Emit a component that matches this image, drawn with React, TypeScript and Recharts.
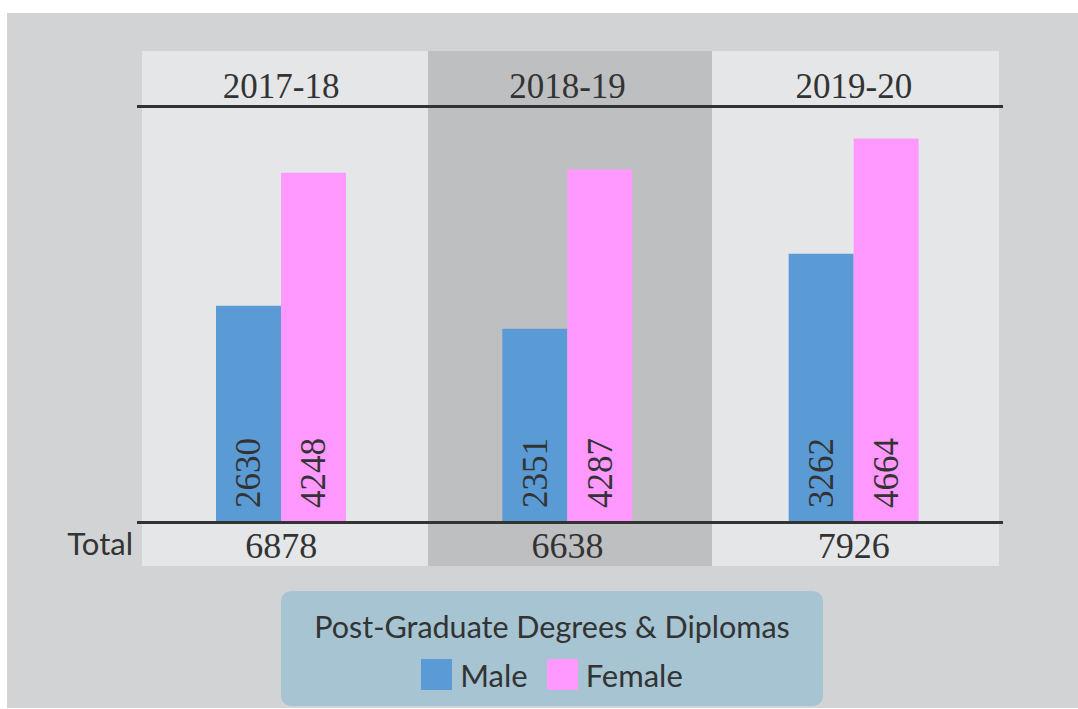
import { BarChart, Bar, XAxis, YAxis, Legend, LabelList } from 'recharts';

const years = ['2017-18', '2018-19', '2019-20'];
const male = [2630, 2351, 3262];
const female = [4248, 4287, 4664];
const totals = [6878, 6638, 7926];
const seriesOrder = ['Male', 'Female'];

const colors = {
  page: '#d2d3d5',
  panel: '#e5e6e8',
  panelDark: '#bebfc1',
  male: '#5b9bd5',
  female: '#ff99ff',
  ink: '#333333',
  legendBox: '#a6c4d2',
};

const serif = '"Liberation Serif", "DejaVu Serif", serif';
const sans = 'Lato, "Open Sans", sans-serif';

const data = years.map((year, i) => ({ year, male: male[i], female: female[i], total: totals[i] }));

// rotated value label sitting at the foot of each bar
function BarValue(props: any) {
  const { x, y, width, height, value } = props;
  const cx = x + width / 2;
  const by = y + height - 14;
  return (
    <text
      x={cx}
      y={by}
      dy="0.34em"
      transform={`rotate(-90, ${cx}, ${by})`}
      textAnchor="start"
      fill={colors.ink}
      fontFamily={serif}
      fontSize={35}
    >
      {value}
    </text>
  );
}

function LegendBox({ payload }: any) {
  const items = [...(payload || [])].sort(
    (a: any, b: any) => seriesOrder.indexOf(a.value) - seriesOrder.indexOf(b.value)
  );
  return (
    <div
      style={{
        width: '100%',
        height: '100%',
        background: colors.legendBox,
        borderRadius: 10,
        fontFamily: sans,
        color: colors.ink,
        textAlign: 'center',
        boxSizing: 'border-box',
        paddingTop: 17,
      }}
    >
      <div style={{ fontSize: 30.5, lineHeight: '36px' }}>Post-Graduate Degrees &amp; Diplomas</div>
      <div style={{ display: 'flex', justifyContent: 'center', alignItems: 'center', marginTop: 11, gap: 19 }}>
        {items.map((p: any) => (
          <div key={p.value} style={{ display: 'flex', alignItems: 'center' }}>
            <span style={{ display: 'inline-block', width: 31, height: 31, background: p.color, marginRight: 8 }} />
            <span style={{ fontSize: 31, lineHeight: '36px', marginTop: 2 }}>{p.value}</span>
          </div>
        ))}
      </div>
    </div>
  );
}

export default function App() {
  return (
    <div style={{ position: 'absolute', left: 0, top: 0, width: 1078, height: 709, background: '#fff', overflow: 'hidden' }}>
      <div style={{ position: 'absolute', left: 7, top: 13, width: 1071, height: 695, background: colors.page }} />
      {/* year columns */}
      <div style={{ position: 'absolute', left: 142, top: 51, width: 286, height: 515, background: colors.panel }} />
      <div style={{ position: 'absolute', left: 428, top: 51, width: 284, height: 515, background: colors.panelDark }} />
      <div style={{ position: 'absolute', left: 712, top: 51, width: 287, height: 515, background: colors.panel }} />

      <div style={{ position: 'absolute', left: 0, top: 0 }}>
        <BarChart
          width={1078}
          height={709}
          data={data}
          margin={{ top: 51, right: 81, bottom: 143, left: 138 }}
          barGap={0}
          barSize={65}
        >
          <XAxis
            xAxisId="top"
            orientation="top"
            dataKey="year"
            height={55}
            axisLine={false}
            tickLine={false}
            tick={{ fill: colors.ink, fontSize: 35, fontFamily: serif }}
          />
          <XAxis
            xAxisId="total"
            orientation="bottom"
            dataKey="year"
            height={44}
            axisLine={false}
            tickLine={false}
            tickMargin={4}
            tickFormatter={(_v: any, i: number) => String(totals[i])}
            tick={{ fill: colors.ink, fontSize: 36, fontFamily: serif }}
            label={{ value: 'Total', position: 'left', offset: 5, fill: colors.ink, fontSize: 31, fontFamily: sans }}
          />
          <YAxis hide domain={[0, 5060]} />
          <Legend
            layout="horizontal"
            verticalAlign="middle"
            align="center"
            wrapperStyle={{ left: 281, top: 591, width: 542, height: 115 }}
            content={<LegendBox />}
          />
          <Bar xAxisId="top" dataKey="male" name="Male" fill={colors.male} isAnimationActive={false}>
            <LabelList dataKey="male" content={<BarValue />} />
          </Bar>
          <Bar xAxisId="top" dataKey="female" name="Female" fill={colors.female} isAnimationActive={false}>
            <LabelList dataKey="female" content={<BarValue />} />
          </Bar>
        </BarChart>
      </div>

      {/* header and baseline rules */}
      <div style={{ position: 'absolute', left: 137, top: 105, width: 866, height: 3, background: colors.ink }} />
      <div style={{ position: 'absolute', left: 137, top: 521, width: 866, height: 3, background: colors.ink }} />
    </div>
  );
}
